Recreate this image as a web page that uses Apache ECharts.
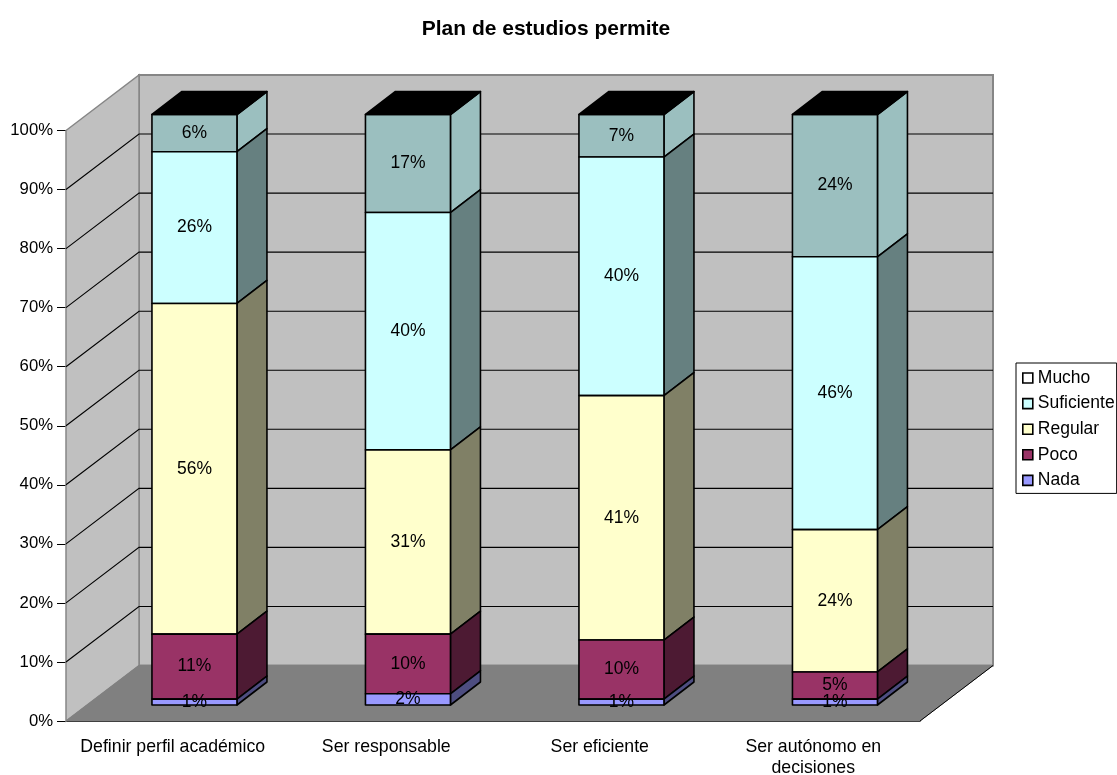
<!DOCTYPE html>
<html>
<head>
<meta charset="utf-8">
<style>html,body{margin:0;padding:0;background:#fff}#c{width:1117px;height:775px}</style>
<script src="https://cdn.jsdelivr.net/npm/echarts@6/dist/echarts.min.js"></script>
</head>
<body>
<div id="c"></div>
<script>
const categories = ['Definir perfil académico', 'Ser responsable', 'Ser eficiente', 'Ser autónomo en\ndecisiones'];
const nada = [1.0, 1.9, 1.0, 1.0];
const poco = [11.0, 10.1, 10.0, 4.6];
const regular = [56.0, 31.2, 41.4, 24.1];
const suficiente = [25.7, 40.2, 40.4, 46.2];
const mucho = [6.3, 16.6, 7.2, 24.1];
const gridTicks = [10, 20, 30, 40, 50, 60, 70, 80, 90];

const seriesDefs = [
  { name: 'Nada', values: nada, front: '#9999FF', side: '#4D4D80' },
  { name: 'Poco', values: poco, front: '#993366', side: '#4D1A33' },
  { name: 'Regular', values: regular, front: '#FFFFCC', side: '#808066' },
  { name: 'Suficiente', values: suficiente, front: '#CCFFFF', side: '#668080' },
  { name: 'Mucho', values: mucho, front: '#9BBFBF', side: '#9BBFBF', legend: '#FFFFFF' }
];

const FONT = 'Liberation Sans, Arial, sans-serif';
const WALL_DX = 73, WALL_DY = -55.5;
const FRONT_DX = 21.7, FRONT_DY = -16;
const BAR_DX = 30, BAR_DY = -23;
const BAR_W = 85;

function renderWalls(params, api) {
  const r = params.coordSys;
  const L = r.x, R = r.x + r.width, T = r.y, B = r.y + r.height;
  const dx = WALL_DX, dy = WALL_DY;
  const children = [
    { type: 'polygon', shape: { points: [[L + dx, T + dy], [R + dx, T + dy], [R + dx, B + dy], [L + dx, B + dy]] },
      style: { fill: '#C0C0C0', stroke: '#868686', lineWidth: 2 } },
    { type: 'polygon', shape: { points: [[L, B], [L + dx, B + dy], [L + dx, T + dy], [L, T]] },
      style: { fill: '#C0C0C0', stroke: '#868686', lineWidth: 1.5 } },
    { type: 'polygon', shape: { points: [[L, B], [R, B], [R + dx, B + dy], [L + dx, B + dy]] },
      style: { fill: '#808080', stroke: '#808080', lineWidth: 1 } },
    { type: 'line', shape: { x1: R, y1: B, x2: R + dx, y2: B + dy }, style: { stroke: '#000', lineWidth: 1 } }
  ];
  gridTicks.forEach(function (t) {
    const y = api.coord([0, t])[1];
    children.push({ type: 'polyline', shape: { points: [[L, y], [L + dx, y + dy], [R + dx, y + dy]] },
      style: { fill: null, stroke: '#000', lineWidth: 1.1 } });
  });
  return { type: 'group', children: children };
}

function makeRender(def, isTop) {
  return function (params, api) {
    const i = api.value(0), base = api.value(1), val = api.value(2);
    const cx = api.coord([i, 0])[0] + FRONT_DX;
    const y0 = api.coord([i, base])[1] + FRONT_DY;
    const y1 = api.coord([i, base + val])[1] + FRONT_DY;
    const x0 = cx - BAR_W / 2, x1 = cx + BAR_W / 2;
    const st = { stroke: '#000', lineWidth: 1.6, lineJoin: 'round' };
    const children = [
      { type: 'polygon', shape: { points: [[x1, y1], [x1 + BAR_DX, y1 + BAR_DY], [x1 + BAR_DX, y0 + BAR_DY], [x1, y0]] },
        style: Object.assign({ fill: def.side }, st) },
      { type: 'rect', shape: { x: x0, y: y1, width: BAR_W, height: y0 - y1 },
        style: Object.assign({ fill: def.front }, st) }
    ];
    if (isTop) {
      children.push({ type: 'polygon', shape: { points: [[x0, y1], [x0 + BAR_DX, y1 + BAR_DY], [x1 + BAR_DX, y1 + BAR_DY], [x1, y1]] },
        style: Object.assign({ fill: '#000' }, st) });
    }
    children.push({ type: 'text', z2: 100, style: { x: cx, y: (y0 + y1) / 2, text: Math.round(val) + '%', align: 'center', verticalAlign: 'middle',
      fill: '#000', font: '17.5px ' + FONT } });
    return { type: 'group', children: children };
  };
}

const cumulative = categories.map(function () { return 0; });
const barSeries = seriesDefs.map(function (def, k) {
  const rows = def.values.map(function (v, i) {
    const row = [i, cumulative[i], v];
    cumulative[i] += v;
    return row;
  });
  return {
    type: 'custom', name: def.name, coordinateSystem: 'cartesian2d', clip: false, z: 10 - k,
    itemStyle: { color: def.front, borderColor: '#000', borderWidth: 1.4 },
    encode: { x: 0, y: [1, 2] }, data: rows, renderItem: makeRender(def, k === seriesDefs.length - 1), silent: true
  };
});

const chart = echarts.init(document.getElementById('c'), null, { renderer: 'canvas' });
chart.setOption({
  animation: false,
  backgroundColor: '#fff',
  title: {
    text: 'Plan de estudios permite', left: 541, top: 13.5, textAlign: 'center',
    textStyle: { fontFamily: FONT, fontSize: 21, fontWeight: 'bold', color: '#000' }
  },
  grid: { left: 66, right: 197, top: 130.5, bottom: 54, outerBoundsMode: 'none' },
  legend: {
    orient: 'vertical', left: 1016, top: 363, padding: [6, 2, 4, 6], itemGap: 7.6, itemWidth: 10, itemHeight: 10,
    backgroundColor: '#fff', borderColor: '#000', borderWidth: 1, borderRadius: 0,
    textStyle: { fontFamily: FONT, fontSize: 17.5, color: '#000' },
    data: seriesDefs.slice().reverse().map(function (d) {
      return { name: d.name, icon: 'rect', itemStyle: { color: d.legend || d.front, borderColor: '#000', borderWidth: 1.6 } };
    })
  },
  xAxis: {
    type: 'category', data: categories, boundaryGap: true,
    axisLine: { lineStyle: { color: '#000', width: 1 } },
    axisTick: { length: 9, lineStyle: { color: '#000' }, alignWithLabel: false },
    axisLabel: { interval: 0, margin: 15, color: '#000', fontFamily: FONT, fontSize: 17.7, lineHeight: 21.5 }
  },
  yAxis: {
    type: 'value', min: 0, max: 100, interval: 10,
    splitLine: { show: false },
    axisLine: { show: true, lineStyle: { color: '#333', width: 1 } },
    axisTick: { show: true, length: 9, lineStyle: { color: '#000' } },
    axisLabel: { formatter: '{value}%', margin: 13, color: '#000', fontFamily: FONT, fontSize: 16.7 }
  },
  series: [{
    type: 'custom', name: 'walls', coordinateSystem: 'cartesian2d', clip: false, z: 1, silent: true,
    data: [[0, 0]], renderItem: renderWalls
  }].concat(barSeries)
});
</script>
</body>
</html>
